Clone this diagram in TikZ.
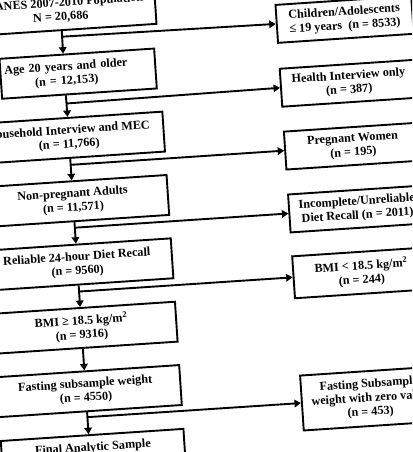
\documentclass[tikz,border=0pt]{standalone}
\usepackage{fontspec}
\setmainfont{Liberation Serif}
\usetikzlibrary{arrows.meta,calc}

\tikzset{
  stepbox/.style={draw, line width=1.9pt, fill=white, align=center,
    font=\bfseries\fontsize{12.2}{14}\selectfont,
    minimum width=190pt, minimum height=40pt, inner sep=2pt},
  outbox/.style={stepbox, minimum width=136pt, minimum height=38pt},
  flow/.style={line width=1.9pt, -{Triangle[length=6.5pt,width=7.5pt]}},
}

\begin{document}
\begin{tikzpicture}[x=1pt, y=1pt]
    \useasboundingbox (0,0) rectangle (412,-452);
    \fill[white] (0,0) rectangle (412,-452);
    \clip (0,0) rectangle (412,-452);
    \begin{scope}[rotate around={3.8:(206,-226)}, transform shape]
        % ── cohort, top to bottom ─────────────────────────────
        \node[stepbox] (pop) at (75,-1) {NHANES 2007-2010 Population\\N = 20,686};
        \node[stepbox, minimum width=155pt, text width=149pt, align=left] (adult) at (88.5,-65.5)
            {\hspace*{1pt}\tabular{@{}c@{}}Age 20 years and older\\(n = 12,153)\endtabular};
        \node[stepbox] (mec) at (75,-129) {Household Interview and MEC\\(n = 11,766)};
        \node[stepbox] (nonpreg) at (75,-192.5) {Non-pregnant Adults\\(n = 11,571)};
        \node[stepbox] (recall) at (75,-256) {Reliable 24-hour Diet Recall\\(n = 9560)};
        \node[stepbox] (bmiok) at (75,-319.5) {BMI ≥ 18.5 kg/m\textsuperscript{2}\\(n = 9316)};
        \node[stepbox] (fasting) at (75,-383) {Fasting subsample weight\\(n = 4550)};
        \node[stepbox, minimum width=183pt, anchor=north] (final) at (78.5,-426)
            {Final Analytic Sample\\\phantom{(n = 0000)}};
        \coordinate (adultin) at ($(adult.north west)!0.413!(adult.north east)$);
        \coordinate (adultout) at ($(adult.south west)!0.413!(adult.south east)$);
        \coordinate (finalin) at ($(final.north west)!0.481!(final.north east)$);

        % ── exclusions ────────────────────────────────────────
        \node[outbox] (kids) at (358,-29) {Children/Adolescents\\≤ 19 years\ \ (n = 8533)};
        \node[outbox] (hionly) at (358,-93) {Health Interview only\\(n = 387)};
        \node[outbox] (preg) at (358,-156) {Pregnant Women\\(n = 195)};
        \node[outbox] (baddiet) at (358,-219) {Incomplete/Unreliable\\Diet Recall (n = 2011)};
        \node[outbox, minimum height=42pt] (lowbmi) at (358,-283) {BMI < 18.5 kg/m\textsuperscript{2}\\(n = 244)};
        \node[outbox, minimum height=55pt] (zerowt) at (358,-409) {Fasting Subsample\\weight with zero value\\(n = 453)};

        % ── arrows ────────────────────────────────────────────
        \draw[flow] (pop.south) -- (adultin);
        \draw[flow] (adultout) -- (mec.north);
        \draw[flow] (mec.south) -- (nonpreg.north);
        \draw[flow] (nonpreg.south) -- (recall.north);
        \draw[flow] (recall.south) -- (bmiok.north);
        \draw[flow] (bmiok.south) -- (fasting.north);
        \draw[flow] (fasting.south) -- (finalin);
        \draw[flow] ($(pop.south)!(kids.west)!(adultin)$) -- (kids.west);
        \draw[flow] ($(adultout)!(hionly.west)!(mec.north)$) -- (hionly.west);
        \draw[flow] ($(mec.south)!(preg.west)!(nonpreg.north)$) -- (preg.west);
        \draw[flow] ($(nonpreg.south)!(baddiet.west)!(recall.north)$) -- (baddiet.west);
        \draw[flow] ($(recall.south)!(lowbmi.west)!(bmiok.north)$) -- (lowbmi.west);
        \draw[flow] ($(fasting.south)!(zerowt.west)!(finalin)$) -- (zerowt.west);
    \end{scope}
\end{tikzpicture}
\end{document}
